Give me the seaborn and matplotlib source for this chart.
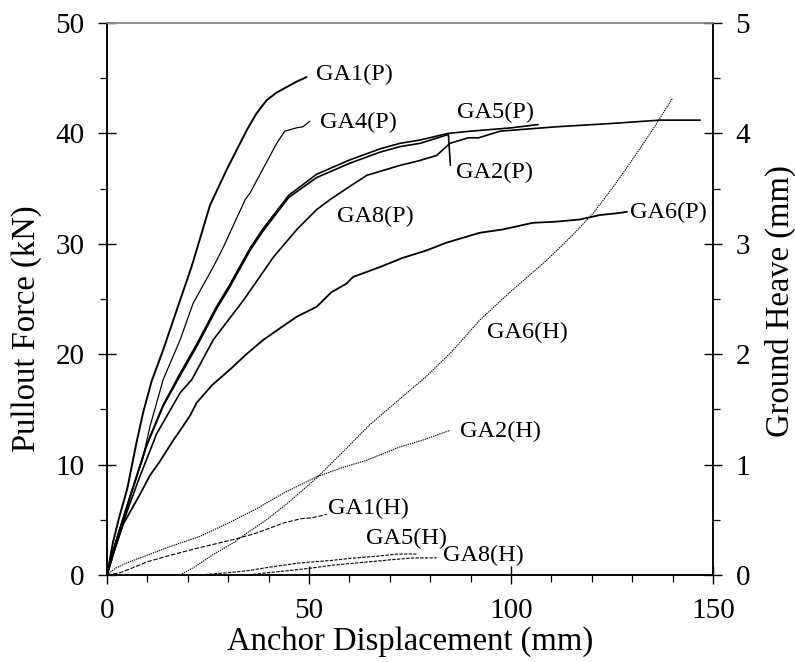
import matplotlib
matplotlib.use("Agg")
import matplotlib.pyplot as plt
from matplotlib.ticker import MultipleLocator
import seaborn as sns
import pandas as pd

# ---- pullout force curves (displacement mm, force kN) ----
ga1p_x = [0, 1.5, 3, 5, 7.3, 9, 11, 14, 18.1, 21, 25.5, 29.6, 34.6, 37, 39.5, 42, 44.5, 47, 49.4]
ga1p_f = [0, 3.0, 5.2, 7.8, 12.0, 14.8, 17.5, 20.5, 24.9, 28.0, 33.5, 36.7, 40.3, 41.8, 43.0, 43.7, 44.2, 44.7, 45.1]

ga4p_x = [0, 1.5, 3, 6, 8.9, 10.6, 13.9, 18.1, 21.3, 26.3, 28.8, 34.2, 35.4, 42, 44, 46.9, 48.5, 50.2]
ga4p_f = [0, 2.2, 4.0, 7.5, 10.6, 13.4, 17.7, 21.3, 24.6, 27.9, 29.7, 34.0, 34.6, 39.1, 40.2, 40.5, 40.6, 41.1]

ga5p_x = [0, 1.5, 3, 5, 7, 9.8, 13.9, 18, 22.2, 27.1, 30.4, 35.4, 38.7, 45, 51.9, 60.1,
          67.6, 72.5, 77.5, 84.5, 90, 100, 106.7]
ga5p_f = [0, 2.2, 4.0, 6.3, 8.6, 11.8, 15.4, 18.2, 20.9, 24.3, 26.3, 29.6, 31.4, 34.4, 36.3, 37.6,
          38.6, 39.1, 39.4, 40.0, 40.2, 40.5, 40.8]

ga2p_x = [0, 1.5, 3, 5, 7, 9.8, 13.9, 18, 22.2, 27.1, 30.4, 35.4, 38.7, 45, 51.9, 60.1,
          67.6, 72.5, 77.5, 84.5, 85.0]
ga2p_f = [0, 2.1, 3.9, 6.2, 8.5, 11.7, 15.3, 18.0, 20.7, 24.1, 26.1, 29.4, 31.2, 34.2, 36.0, 37.3,
          38.3, 38.8, 39.1, 39.9, 37.1]

ga8p_x = [0, 1.5, 3, 5, 8, 12.3, 18.1, 21, 26.3, 33.8, 41.2, 47, 51.9, 55.2, 60.1, 64.3,
          72.5, 77, 81.6, 84.9, 89.4, 92, 97.3, 111.3, 125, 136.9, 146.8]
ga8p_f = [0, 1.8, 3.5, 5.8, 8.8, 12.8, 16.5, 17.7, 21.3, 24.9, 28.8, 31.3, 33.1, 34.0, 35.2, 36.2,
          37.1, 37.5, 38.0, 39.1, 39.6, 39.6, 40.2, 40.6, 40.9, 41.2, 41.2]

ga6p_x = [0, 2, 4, 6, 8, 10.6, 13.1, 16.4, 18.1, 20.5, 22.2, 26, 30.4, 34.5, 38.7, 43, 47,
          51.9, 55.5, 59.3, 60.9, 67.6, 73, 79.1, 84, 92.3, 98, 105.4, 111, 117, 122, 127, 128.7]
ga6p_f = [0, 2.5, 4.6, 5.9, 7.2, 9.0, 10.3, 12.2, 13.1, 14.4, 15.6, 17.2, 18.6, 20.0, 21.3, 22.4, 23.4,
          24.3, 25.6, 26.4, 27.0, 27.9, 28.7, 29.4, 30.1, 31.0, 31.3, 31.9, 32.0, 32.2, 32.6, 32.8, 32.9]

# ---- ground heave curves (displacement mm, heave mm) ----
ga6h_x = [18.1, 22, 26, 31.2, 35, 39.5, 45, 51.9, 58.5, 65, 72, 79.1, 85.5, 92.3, 100,
          108.8, 115, 120.4, 125, 130, 135, 140]
ga6h_h = [0, 0.08, 0.18, 0.29, 0.39, 0.50, 0.66, 0.88, 1.12, 1.36, 1.58, 1.80, 2.03, 2.31, 2.57,
          2.85, 3.07, 3.28, 3.50, 3.76, 4.03, 4.32]

ga2h_x = [0, 2, 4.9, 10, 15, 23, 30, 37, 43.6, 51.9, 58, 64.3, 72.5, 78, 84.9]
ga2h_h = [0, 0.06, 0.11, 0.18, 0.25, 0.35, 0.47, 0.60, 0.74, 0.89, 0.97, 1.04, 1.16, 1.22, 1.31]

ga1h_x = [0, 3.2, 6, 10, 14.8, 22, 31.2, 37, 43.6, 48, 51, 54.4]
ga1h_h = [0, 0.02, 0.06, 0.12, 0.17, 0.24, 0.32, 0.38, 0.47, 0.51, 0.52, 0.55]

ga5h_x = [23, 29.6, 35, 40, 47.8, 55, 60, 66.7, 72, 76.6]
ga5h_h = [0, 0.02, 0.04, 0.07, 0.11, 0.13, 0.15, 0.17, 0.19, 0.19]

ga8h_x = [35, 39.5, 45, 50, 56, 62, 68, 72.5, 76, 81.6]
ga8h_h = [0, 0.02, 0.04, 0.06, 0.09, 0.11, 0.13, 0.145, 0.155, 0.155]

force_curves = [
    ("GA1(P)", ga1p_x, ga1p_f, 1.4),
    ("GA4(P)", ga4p_x, ga4p_f, 0.9),
    ("GA5(P)", ga5p_x, ga5p_f, 1.2),
    ("GA2(P)", ga2p_x, ga2p_f, 1.2),
    ("GA8(P)", ga8p_x, ga8p_f, 1.2),
    ("GA6(P)", ga6p_x, ga6p_f, 1.3),
]
heave_curves = [
    ("GA6(H)", ga6h_x, ga6h_h, (0, (1.2, 0.8))),
    ("GA2(H)", ga2h_x, ga2h_h, (0, (1.2, 0.8))),
    ("GA1(H)", ga1h_x, ga1h_h, (0, (4, 1.5))),
    ("GA5(H)", ga5h_x, ga5h_h, (0, (3, 1.2))),
    ("GA8(H)", ga8h_x, ga8h_h, (0, (3, 1.2))),
]

# label anchors: (text, x, y, axis)
labels = [
    ("GA1(P)", 51.7, 45.3, "F"),
    ("GA4(P)", 52.7, 41.0, "F"),
    ("GA5(P)", 86.6, 41.9, "F"),
    ("GA2(P)", 86.4, 36.5, "F"),
    ("GA8(P)", 56.9, 32.5, "F"),
    ("GA6(P)", 129.5, 32.8, "F"),
    ("GA6(H)", 94.0, 2.20, "H"),
    ("GA2(H)", 87.3, 1.30, "H"),
    ("GA1(H)", 54.7, 0.60, "H"),
    ("GA5(H)", 64.2, 0.335, "H"),
    ("GA8(H)", 83.2, 0.18, "H"),
]

sns.set_theme(style="white")
plt.rcParams["font.family"] = ["Liberation Serif", "DejaVu Serif"]
plt.rcParams["mathtext.fontset"] = "stix"
for key in ("text.color", "axes.labelcolor", "xtick.color", "ytick.color"):
    plt.rcParams[key] = "black"

fig = plt.figure(figsize=(7.95, 6.62), dpi=100)
ax = fig.add_axes([0.1346, 0.1314, 0.7623, 0.8339])
ax2 = ax.twinx()

for name, xs, ys, lw in force_curves:
    df = pd.DataFrame({"disp": xs, "val": ys})
    sns.lineplot(data=df, x="disp", y="val", ax=ax, sort=False, estimator=None,
                 color="black", lw=lw, legend=False)

for name, xs, ys, ls in heave_curves:
    df = pd.DataFrame({"disp": xs, "val": ys})
    sns.lineplot(data=df, x="disp", y="val", ax=ax2, sort=False, estimator=None,
                 color="black", lw=0.8, linestyle=ls, legend=False)

for txt, x, y, which in labels:
    target = ax if which == "F" else ax2
    target.text(x, y, txt, ha="left", va="center", fontsize=17.5, color="black")

ax.set_xlim(0, 150)
ax.set_ylim(0, 50)
ax2.set_ylim(0, 5)

ax.xaxis.set_major_locator(MultipleLocator(50))
ax.xaxis.set_minor_locator(MultipleLocator(10))
ax.yaxis.set_major_locator(MultipleLocator(10))
ax.yaxis.set_minor_locator(MultipleLocator(5))
ax2.yaxis.set_major_locator(MultipleLocator(1))
ax2.yaxis.set_minor_locator(MultipleLocator(0.5))

for a in (ax, ax2):
    a.tick_params(which="major", direction="inout", length=12.5, width=1.0,
                  labelsize=21, pad=10, color="black", labelcolor="black")
    a.tick_params(which="minor", direction="out", length=4.8, width=0.9, color="black")
    for s in ("left", "right", "bottom"):
        a.spines[s].set_color("black")
        a.spines[s].set_linewidth(1.1)
    a.spines["top"].set_color("#8c8c8c")
    a.spines["top"].set_linewidth(1.1)

ax.tick_params(axis="x", which="both", bottom=True, top=False)
ax.tick_params(axis="y", which="both", left=True, right=False)
ax2.tick_params(axis="y", which="both", left=False, right=True)

ax.set_xlabel("Anchor Displacement (mm)", fontsize=23.5, labelpad=2)
ax.set_ylabel("Pullout Force (kN)", fontsize=23.5)
ax2.set_ylabel("Ground Heave (mm)", fontsize=23.5)
ax.yaxis.set_label_coords(-0.108, 0.447)
ax2.yaxis.set_label_coords(1.085, 0.497)

fig.savefig("out.png", dpi=100)
